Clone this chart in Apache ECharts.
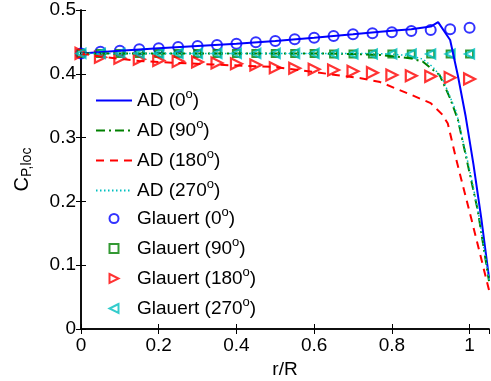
<!DOCTYPE html>
<html><head><meta charset="utf-8">
<script src="https://cdn.jsdelivr.net/npm/echarts@6/dist/echarts.min.js"></script>
<style>html,body{margin:0;padding:0;background:#fff}#c{width:491px;height:381px}</style>
</head><body><div id="c"></div>
<script>
// Glauert model samples
var rGlauert = [0,0.05,0.1,0.15,0.2,0.25,0.3,0.35,0.4,0.45,0.5,0.55,0.6,0.65,0.7,0.75,0.8,0.85,0.9,0.95,1.0];
var glauert0 = [0.432,0.4346,0.436,0.4383,0.440,0.442,0.4436,0.445,0.4472,0.4493,0.4514,0.4541,0.4566,0.4592,0.462,0.4634,0.465,0.467,0.4687,0.470,0.4723];
var glauert90 = [0.432,0.432,0.432,0.432,0.432,0.432,0.432,0.432,0.432,0.432,0.432,0.432,0.432,0.431,0.431,0.431,0.431,0.431,0.431,0.431,0.431];
var glauert180 = [0.432,0.4258,0.4243,0.4227,0.421,0.4195,0.4185,0.417,0.4159,0.4138,0.4096,0.4086,0.407,0.406,0.404,0.4018,0.398,0.397,0.396,0.394,0.392];
var glauert270 = [0.432,0.432,0.432,0.432,0.432,0.432,0.432,0.432,0.432,0.432,0.432,0.432,0.432,0.431,0.431,0.431,0.431,0.431,0.431,0.431,0.431];
// AD model curves
var rAD0 = [0,0.1,0.2,0.3,0.4,0.5,0.6,0.7,0.77,0.8,0.85,0.9,0.919,0.95,0.97,0.99,1.01,1.03,1.05];
var ad0 = [0.432,0.436,0.440,0.4436,0.4472,0.4514,0.4566,0.462,0.466,0.4676,0.470,0.474,0.481,0.453,0.397,0.333,0.258,0.174,0.08];
var rAD90 = [0,0.2,0.4,0.6,0.7,0.77,0.81,0.85,0.88,0.9,0.923,0.95,0.97,1.0,1.021,1.05];
var ad90 = [0.432,0.432,0.432,0.432,0.431,0.4295,0.427,0.424,0.419,0.409,0.398,0.3615,0.328,0.245,0.186,0.075];
var rAD180 = [0,0.05,0.15,0.25,0.34,0.49,0.56,0.72,0.77,0.85,0.9,0.93,0.944,0.966,1.004,1.05];
var ad180 = [0.432,0.427,0.420,0.417,0.4145,0.411,0.406,0.393,0.387,0.367,0.354,0.336,0.322,0.265,0.174,0.061];
var rAD270 = [0,0.2,0.4,0.6,0.7,0.8,0.85,0.88,0.905,0.93,0.966,1.0,1.021,1.05];
var ad270 = [0.432,0.432,0.432,0.432,0.432,0.431,0.428,0.423,0.411,0.393,0.340,0.25,0.188,0.077];
var seriesNames = ['AD (0°)','AD (90°)','AD (180°)','AD (270°)','Glauert (0°)','Glauert (90°)','Glauert (180°)','Glauert (270°)'];

function pairs(xs, ys){ return xs.map(function(x,i){ return [x, ys[i]]; }); }
var FONT = 'Liberation Sans';
var chart = echarts.init(document.getElementById('c'), null, {renderer:'canvas'});
function legendText(padLeft){
  return {
    fontFamily: FONT, fontSize: 19, color: '#000', lineHeight: 20, padding: [0,0,0,padLeft],
    rich: { sup: { fontFamily: FONT, fontSize: 13, color: '#000', padding: [0,0,12,0] } }
  };
}
function fmt(n){ return n.replace(/\((\d+)°\)/, '($1{sup|o})'); }
var axisCommon = {
  axisLine: {lineStyle:{color:'#000', width:1.5}},
  splitLine: {show:false},
  axisTick: {inside:true, length:5, lineStyle:{color:'#000', width:1}}
};
var legendIcons = ['circle', 'rect', 'path://M0,0L10,5L0,10Z', 'path://M10,0L0,5L10,10Z'];
chart.setOption({
  animation: false,
  backgroundColor: '#fff',
  grid: {left:81, right:2, top:10, bottom:52, containLabel:false, outerBoundsMode:'none'},
  xAxis: [
    Object.assign({type:'value', min:0, max:1.05, interval:0.2, position:'bottom',
      name:'r/R', nameLocation:'middle', nameGap:29,
      nameTextStyle:{fontFamily:FONT, fontSize:19, color:'#000'},
      axisLabel:{fontFamily:FONT, fontSize:19, color:'#000', margin:7, showMaxLabel:false}}, axisCommon),
    Object.assign({type:'value', min:0, max:1.05, interval:0.2, position:'top', axisLabel:{show:false}}, axisCommon)
  ],
  yAxis: [
    Object.assign({type:'value', min:0, max:0.5, interval:0.1, position:'left',
      name:'C{sub|P,loc}', nameLocation:'middle', nameGap:47, nameRotate:90,
      nameTextStyle:{fontFamily:FONT, fontSize:20, color:'#000',
        rich:{sub:{fontFamily:FONT, fontSize:14, color:'#000', padding:[10,0,0,0]}}},
      axisLabel:{fontFamily:FONT, fontSize:19, color:'#000', margin:5}}, axisCommon),
    Object.assign({type:'value', min:0, max:0.5, interval:0.1, position:'right', axisLabel:{show:false}}, axisCommon)
  ],
  legend: [
    {orient:'vertical', left:90, top:83, itemWidth:36, itemHeight:14, itemGap:7.5,
     data: seriesNames.slice(0,4).map(function(n){ return {name:n, itemStyle:{opacity:0}}; }),
     formatter: fmt, textStyle: legendText(0), selectedMode:false},
    {orient:'vertical', left:103.5, top:201, itemWidth:9, itemHeight:9, itemGap:7.5,
     data: seriesNames.slice(4).map(function(n,i){ return {name:n, icon:legendIcons[i]}; }),
     formatter: fmt, textStyle: legendText(13.5), selectedMode:false}
  ],
  series: [
    {name:seriesNames[0], type:'line', data:pairs(rAD0,ad0), symbol:'none', color:'#0000ff',
     lineStyle:{color:'#0000ff', width:2}},
    {name:seriesNames[1], type:'line', data:pairs(rAD90,ad90), symbol:'none', color:'#008000',
     lineStyle:{color:'#008000', width:2, type:[9,4,2,4]}},
    {name:seriesNames[2], type:'line', data:pairs(rAD180,ad180), symbol:'none', color:'#ff0000',
     lineStyle:{color:'#ff0000', width:2, type:[8,6]}},
    {name:seriesNames[3], type:'line', data:pairs(rAD270,ad270), symbol:'none', color:'#00bfbf',
     lineStyle:{color:'#00bfbf', width:1.5, type:[1.5,2.5]}},
    {name:seriesNames[4], type:'scatter', data:pairs(rGlauert,glauert0), symbol:'circle', symbolSize:10,
     itemStyle:{color:'rgba(0,0,0,0)', borderColor:'#0000ff', borderWidth:2}},
    {name:seriesNames[5], type:'scatter', data:pairs(rGlauert,glauert90), symbol:'rect', symbolSize:7,
     itemStyle:{color:'rgba(0,0,0,0)', borderColor:'#008000', borderWidth:2}},
    {name:seriesNames[6], type:'scatter', data:pairs(rGlauert,glauert180), symbol:'triangle', symbolSize:11, symbolRotate:-90,
     itemStyle:{color:'rgba(0,0,0,0)', borderColor:'#ff0000', borderWidth:2.2}},
    {name:seriesNames[7], type:'scatter', data:pairs(rGlauert,glauert270), symbol:'triangle', symbolSize:9, symbolRotate:90,
     itemStyle:{color:'rgba(0,0,0,0)', borderColor:'#00bfbf', borderWidth:2.2}}
  ]
});
</script></body></html>
